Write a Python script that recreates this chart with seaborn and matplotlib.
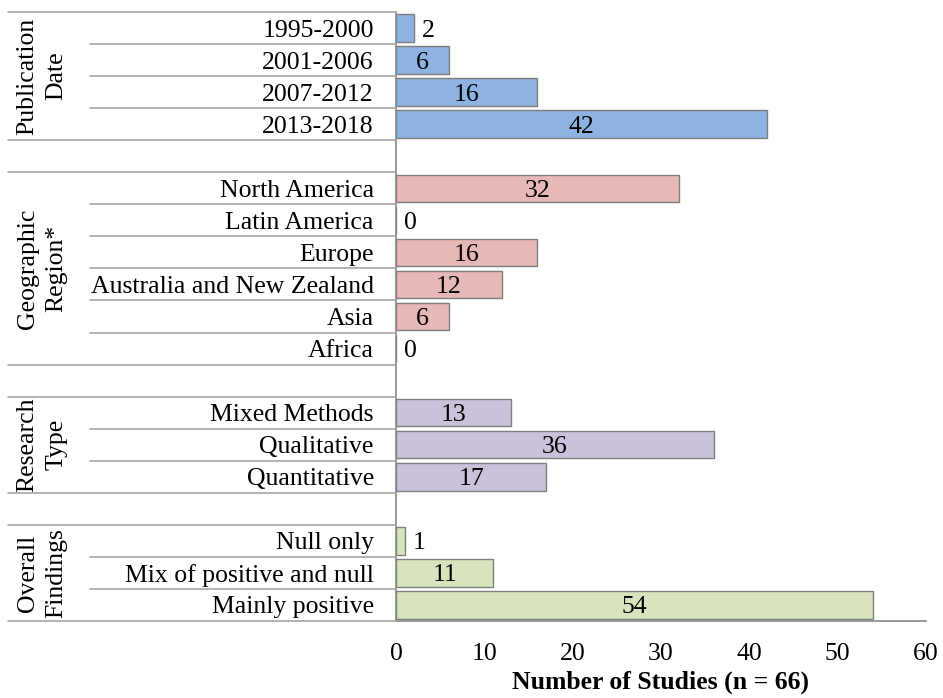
import matplotlib
matplotlib.use('Agg')
import matplotlib.pyplot as plt
import matplotlib.transforms as mtransforms
import seaborn as sns
import pandas as pd

# datos
groups = ["Publication\nDate", "Geographic\nRegion*", "Research\nType", "Overall\nFindings"]
date_labels = ["1995-2000", "2001-2006", "2007-2012", "2013-2018"]
date_counts = [2, 6, 16, 42]
region_labels = ["North America", "Latin America", "Europe", "Australia and New Zealand", "Asia", "Africa"]
region_counts = [32, 0, 16, 12, 6, 0]
type_labels = ["Mixed Methods", "Qualitative", "Quantitative"]
type_counts = [13, 36, 17]
finding_labels = ["Null only", "Mix of positive and null", "Mainly positive"]
finding_counts = [1, 11, 54]
group_colors = ["#8db3e2", "#e6b9b8", "#ccc1da", "#d7e4bd"]

all_labels = [date_labels, region_labels, type_labels, finding_labels]
all_counts = [date_counts, region_counts, type_counts, finding_counts]

rows = []
order = []
spans = []
for k, (g, labs, cnts) in enumerate(zip(groups, all_labels, all_counts)):
    start = len(order)
    for lab, c in zip(labs, cnts):
        rows.append({"label": lab, "count": c, "group": g})
        order.append(lab)
    spans.append((start, len(order) - 1))
    if k < len(groups) - 1:
        order.append(" " * (k + 1))
df = pd.DataFrame(rows)

sns.set_style("white")
plt.rcParams['font.family'] = ['Liberation Serif', 'DejaVu Serif']
plt.rcParams['text.color'] = 'black'
plt.rcParams['axes.labelcolor'] = 'black'

FS = 18.5

fig = plt.figure(figsize=(9.43, 6.98), dpi=100)
ax = fig.add_axes([396 / 943, 1 - 621 / 698, 530 / 943, 609 / 698])

sns.barplot(data=df, x="count", y="label", hue="group", order=order,
            palette=dict(zip(groups, group_colors)), saturation=1, dodge=False, legend=False,
            width=0.86, edgecolor="#7f7f7f", linewidth=1, ax=ax)

ax.set_xlim(0, 60)
ax.set_ylim(len(order) - 0.5, -0.5)
ax.set_xticks(range(0, 61, 10))
ax.tick_params(axis='x', direction='out', length=6, width=1, color="#868686",
               labelsize=FS, labelcolor="black", pad=10)
ax.tick_params(axis='y', length=0, labelsize=FS, labelcolor="black", pad=16)
for s in ["top", "right"]:
    ax.spines[s].set_visible(False)
for s in ["left", "bottom"]:
    ax.spines[s].set_color("#868686")
    ax.spines[s].set_linewidth(1.2)
ax.set_ylabel("")
ax.set_xlabel("Number of Studies (n = 66)", fontsize=FS, fontweight="bold", labelpad=4)

# etiquetas de valor
for _, r in df.iterrows():
    y = order.index(r["label"])
    if r["count"] <= 2:
        ax.annotate(str(r["count"]), (r["count"], y), xytext=(6, 0), textcoords="offset points",
                    ha="left", va="center_baseline", fontsize=FS)
    else:
        ax.text(r["count"] / 2, y, str(r["count"]), ha="center", va="center_baseline", fontsize=FS)

# líneas separadoras y nombres de grupo
trans = mtransforms.blended_transform_factory(fig.transFigure, ax.transData)
x_axis = 396 / 943
for g, (a, b) in zip(groups, spans):
    for yy in (a - 0.5, b + 0.5):
        fig.add_artist(plt.Line2D([8 / 943, x_axis], [yy, yy], transform=trans,
                                  color="#a6a6a6", lw=1.2))
    for i in range(a, b):
        fig.add_artist(plt.Line2D([90 / 943, x_axis], [i + 0.5, i + 0.5], transform=trans,
                                  color="#a6a6a6", lw=1.2))
    ax.text(42 / 943, (a + b) / 2, g, transform=trans, rotation=90, ha="center", va="center",
            multialignment="center", fontsize=FS, linespacing=1.4)

plt.savefig("out.png", dpi=100)
